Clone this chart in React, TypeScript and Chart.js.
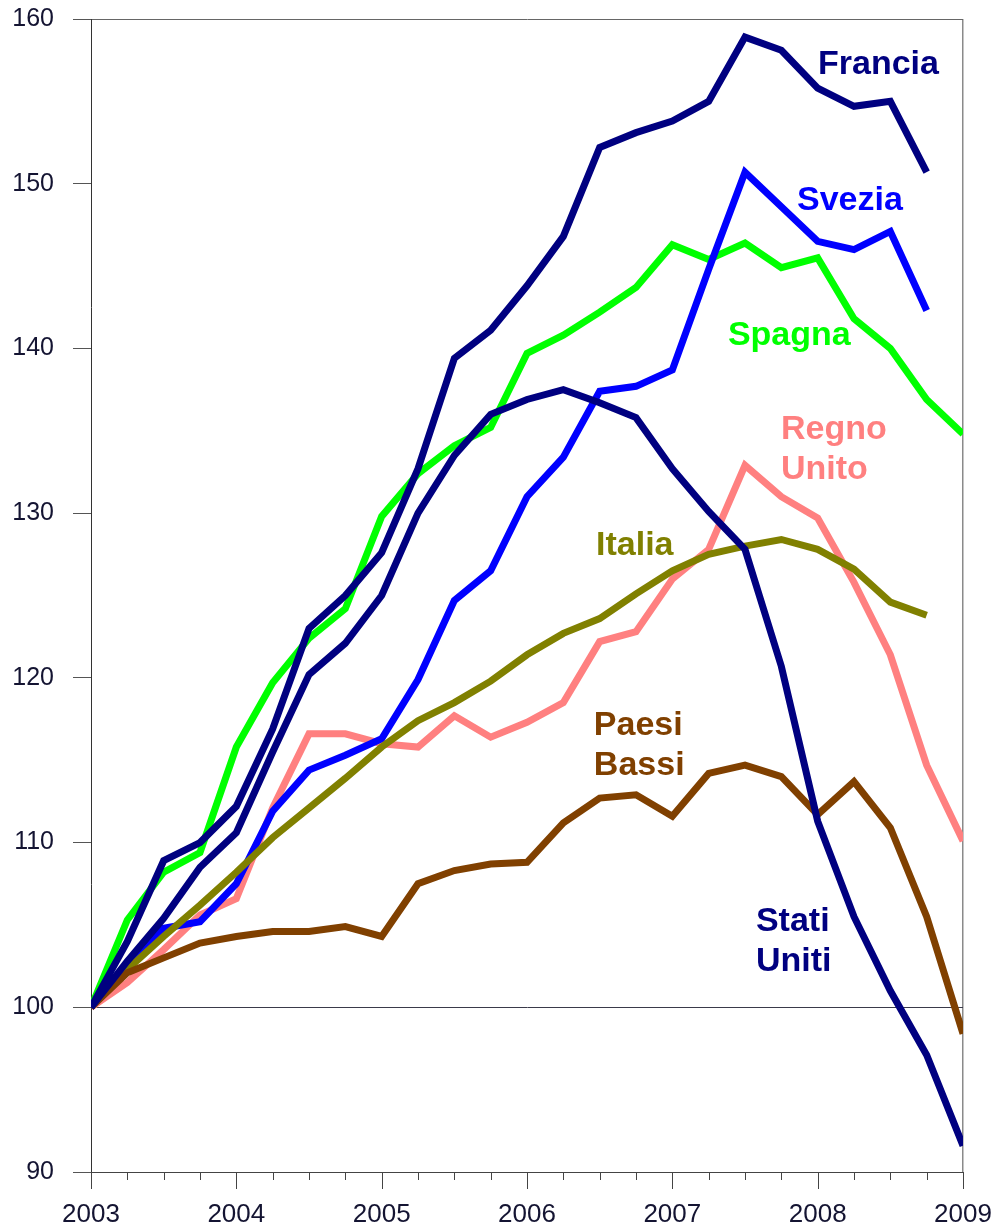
import React, { useEffect, useRef } from "react";
import { Chart, registerables } from "chart.js";

Chart.register(...registerables);

// Quarterly index, 2003 Q1 = 100
const yearLabels = ["2003", "2004", "2005", "2006", "2007", "2008", "2009"];
const quarterCount = 25;

const francia = [100, 104.0, 108.9, 110.0, 112.2, 116.9, 123.0, 125.0, 127.6, 132.7, 139.4, 141.1, 143.8, 146.8, 152.2, 153.1, 153.8, 155.0, 158.9, 158.1, 155.8, 154.7, 155.0, 150.7, null];
const statiUniti = [100, 102.8, 105.4, 108.5, 110.6, 115.5, 120.2, 122.1, 125.0, 130.0, 133.5, 136.0, 136.9, 137.5, 136.7, 135.8, 132.7, 130.1, 127.8, 120.7, 111.3, 105.5, 101.0, 97.1, 91.6];
const svezia = [100, 102.3, 104.8, 105.2, 107.5, 111.9, 114.4, 115.3, 116.3, 119.9, 124.7, 126.5, 131.0, 133.4, 137.4, 137.7, 138.7, 144.8, 150.7, 148.6, 146.5, 146.0, 147.1, 142.3, null];
const spagna = [100, 105.3, 108.2, 109.4, 115.8, 119.7, 122.4, 124.2, 129.8, 132.4, 134.1, 135.2, 139.7, 140.8, 142.2, 143.7, 146.3, 145.4, 146.4, 144.9, 145.5, 141.8, 140.0, 136.9, 134.8];
const regnoUnito = [100, 101.5, 103.5, 105.6, 106.6, 112.1, 116.6, 116.6, 116.0, 115.8, 117.7, 116.4, 117.3, 118.5, 122.2, 122.8, 126.0, 127.8, 132.9, 131.0, 129.7, 125.8, 121.4, 114.7, 110.1];
const italia = [100, 102.3, 104.3, 106.2, 108.2, 110.3, 112.1, 113.9, 115.8, 117.4, 118.5, 119.8, 121.4, 122.7, 123.6, 125.1, 126.5, 127.5, 128.0, 128.4, 127.8, 126.6, 124.6, 123.8, null];
const paesiBassi = [100, 102.1, 103.0, 103.9, 104.3, 104.6, 104.6, 104.9, 104.3, 107.5, 108.3, 108.7, 108.8, 111.2, 112.7, 112.9, 111.6, 114.2, 114.7, 114.0, 111.7, 113.7, 110.9, 105.5, 98.4];

const seriesNames = ["Francia", "Stati Uniti", "Paesi Bassi", "Italia", "Svezia", "Regno Unito", "Spagna"];
const seriesValues = [francia, statiUniti, paesiBassi, italia, svezia, regnoUnito, spagna];
const seriesColors = ["#000080", "#000080", "#804000", "#808000", "#0000FF", "#FF8080", "#00FF00"];

// In-chart labels: text lines, anchor in data coordinates (quarter index, value)
const labelTexts = [["Francia"], ["Svezia"], ["Spagna"], ["Regno", "Unito"], ["Italia"], ["Paesi", "Bassi"], ["Stati", "Uniti"]];
const labelColors = ["#000080", "#0000FF", "#00FF00", "#FF8080", "#808000", "#804000", "#000080"];
const labelQuarter = [20.01, 19.43, 17.53, 18.99, 13.9, 13.84, 18.3];
const labelValue = [157.21, 148.95, 140.75, 135.1, 128.0, 117.07, 105.23];

const FONT = "'Liberation Sans', Arial, Helvetica, sans-serif";

export default function App() {
  const ref = useRef<HTMLCanvasElement | null>(null);

  useEffect(() => {
    if (!ref.current) return;

    const datasets = seriesNames.map((name, k) => ({
      label: name,
      data: seriesValues[k].map((v, i) => ({ x: i, y: v })),
      borderColor: seriesColors[k],
      backgroundColor: seriesColors[k],
      borderWidth: 7,
      pointRadius: 0,
      tension: 0,
      fill: false,
      spanGaps: false,
      borderJoinStyle: "miter" as const,
    }));

    const extras = {
      id: "extras",
      beforeDatasetsDraw(chart: any) {
        const { ctx, scales } = chart;
        const x = scales.x;
        const y = scales.y;
        const bottom = y.getPixelForValue(90);
        ctx.save();
        ctx.strokeStyle = "#444";
        ctx.lineWidth = 1;
        for (let i = 0; i < quarterCount; i++) {
          const px = Math.round(x.getPixelForValue(i)) + 0.5;
          const len = i % 4 === 0 ? 17 : 8;
          ctx.beginPath();
          ctx.moveTo(px, bottom);
          ctx.lineTo(px, bottom + len);
          ctx.stroke();
        }
        ctx.restore();
      },
      afterDatasetsDraw(chart: any) {
        const { ctx, scales } = chart;
        const x = scales.x;
        const y = scales.y;
        ctx.save();
        ctx.font = `bold 34px ${FONT}`;
        ctx.textAlign = "left";
        ctx.textBaseline = "middle";
        labelTexts.forEach((lines, k) => {
          const px = x.getPixelForValue(labelQuarter[k]);
          const py = y.getPixelForValue(labelValue[k]);
          ctx.fillStyle = labelColors[k];
          lines.forEach((t, j) => ctx.fillText(t, px, py + j * 40));
        });
        ctx.restore();
      },
    };

    const chart = new Chart(ref.current, {
      type: "line",
      data: { datasets },
      options: {
        animation: false,
        responsive: false,
        maintainAspectRatio: false,
        layout: { padding: { top: 19, right: 32, left: 0, bottom: 0 } },
        plugins: { legend: { display: false }, tooltip: { enabled: false } },
        scales: {
          x: {
            type: "linear",
            min: 0,
            max: 24,
            afterFit: (s: any) => {
              s.height = 58;
              s.paddingLeft = 0;
              s.paddingRight = 0;
            },
            ticks: {
              stepSize: 1,
              autoSkip: false,
              maxRotation: 0,
              padding: 10,
              color: "#141432",
              font: { family: FONT, size: 26 },
              callback: (v: any) => (Number(v) % 4 === 0 ? yearLabels[Number(v) / 4] : ""),
            },
            grid: {
              drawOnChartArea: true,
              drawTicks: true,
              tickLength: 17,
              tickColor: "rgba(0,0,0,0)",
              color: (c: any) => (c.tick && c.tick.value === 24 ? "#8a8a8a" : "rgba(0,0,0,0)"),
              lineWidth: 1.5,
            },
            border: { display: true, color: "#444", width: 1 },
          },
          y: {
            type: "linear",
            min: 90,
            max: 160,
            afterFit: (s: any) => {
              s.width = 91;
              s.paddingTop = 0;
              s.paddingBottom = 0;
            },
            ticks: {
              stepSize: 10,
              padding: 19,
              color: "#141432",
              font: { family: FONT, size: 25 },
            },
            grid: {
              drawTicks: true,
              tickLength: 18,
              tickColor: "#555",
              color: (c: any) =>
                c.tick && c.tick.value === 100 ? "#3a3a4a" : c.tick && c.tick.value === 160 ? "#666" : "rgba(0,0,0,0)",
              lineWidth: 1,
            },
            border: { display: true, color: "#333", width: 1 },
          },
        },
      },
      plugins: [extras],
    });

    return () => chart.destroy();
  }, []);

  return (
    <div style={{ position: "absolute", left: 0, top: 0, width: 995, height: 1230, background: "#fff" }}>
      <canvas ref={ref} width={995} height={1230} style={{ display: "block", width: 995, height: 1230 }} />
    </div>
  );
}
